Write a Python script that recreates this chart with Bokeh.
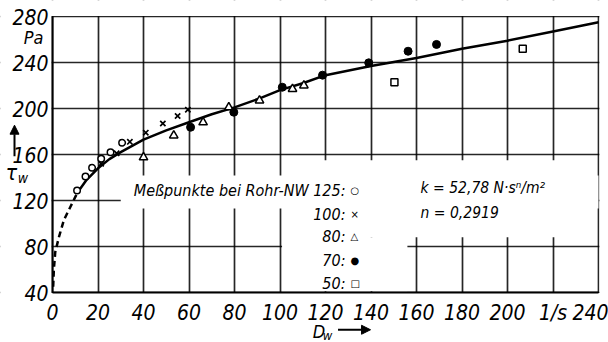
from bokeh.plotting import figure
from bokeh.models import Range1d, FixedTicker, BoxAnnotation, Label, Arrow, NormalHead
from bokeh.embed import file_html
from bokeh.resources import INLINE

# ---- data ----
curve_dash_x = [0.3, 0.6, 1.2, 2.8, 5.0, 8.0, 11.0]
curve_dash_y = [45, 60, 75, 88, 103, 115, 127]
curve_x = [11, 15, 20, 25, 30, 40, 50, 60, 70, 80, 90, 100, 110, 120, 140, 160, 180, 200, 220, 240]
curve_y = [127, 138, 148, 156, 162, 173, 181, 188, 195, 201, 208, 216, 222, 229, 237, 244, 252, 259, 267, 275]

nw125_x = [10.8, 14.5, 17.4, 21.4, 25.5, 30.6]
nw125_y = [128.7, 140.9, 148.4, 156.3, 162, 170.2]
nw100_x = [21.4, 28.2, 34, 41, 48.5, 55, 59.5]
nw100_y = [151.9, 161, 171, 179, 187, 193.5, 199]
nw80_x = [40, 53.3, 66.2, 77.5, 91, 105.5, 110.5]
nw80_y = [157.5, 176.5, 188, 201, 207, 217, 220]
nw70_x = [60.7, 79.7, 101, 118.7, 139, 156.3, 168.8]
nw70_y = [183.7, 196.8, 218.5, 229, 239.7, 249.8, 255.7]
nw50_x = [150.3, 206.7]
nw50_y = [222.9, 251.9]

x_ticks = [0, 20, 40, 60, 80, 100, 120, 140, 160, 180, 200, 220, 240]
x_tick_labels = ["0", "20", "40", "60", "80", "100", "120", "140", "160", "180", "200", "1/s", "240"]
y_ticks = [40, 80, 120, 160, 200, 240, 280]

X0, X1, Y0, Y1 = 0, 240, 40, 280

# ---- layout: the frame fills the canvas, the axes sit at fixed locations ----
W, H = 608, 342
PL, PR, PT, PB = 52, 598, 16, 292          # pixel box of the drawn grid
sx = (PR - PL) / (X1 - X0)
sy = (PB - PT) / (Y1 - Y0)
xr = Range1d(X0 - PL / sx, X1 + (W - PR) / sx)
yr = Range1d(Y0 - (H - PB) / sy, Y1 + PT / sy)

FONT = "Liberation Sans Narrow, DejaVu Sans Condensed, sans-serif"

p = figure(width=W, height=H, output_backend="svg", toolbar_location=None,
           x_range=xr, y_range=yr, min_border=0,
           background_fill_color="white", border_fill_color="white")
p.outline_line_color = None

p.xaxis.fixed_location = Y0
p.xaxis.bounds = (X0, X1)
p.yaxis.fixed_location = X0
p.yaxis.bounds = (Y0, Y1)
for ax in (p.xaxis, p.yaxis):
    ax.axis_line_width = 2
    ax.axis_line_color = "black"
    ax.major_tick_out = 0
    ax.major_tick_in = 0
    ax.minor_tick_out = 0
    ax.minor_tick_in = 0
    ax.major_label_text_font = FONT
    ax.major_label_text_font_style = "italic"
    ax.major_label_text_font_size = "21px"
    ax.major_label_text_color = "black"

p.xaxis.ticker = FixedTicker(ticks=x_ticks)
p.xaxis.major_label_overrides = {t: l for t, l in zip(x_ticks, x_tick_labels)}
p.xaxis.major_label_standoff = 8
p.yaxis.ticker = FixedTicker(ticks=y_ticks)
p.yaxis.major_label_standoff = 4

p.xgrid.ticker = FixedTicker(ticks=x_ticks)
p.ygrid.ticker = FixedTicker(ticks=y_ticks)
for g in (p.xgrid, p.ygrid):
    g.grid_line_color = "black"
    g.grid_line_width = 1.7
    g.grid_line_alpha = 0.85

e = 0.4
masks = [
    # outside the chart
    (xr.start, X0 - e, yr.start, yr.end),
    (X1 + e, xr.end, yr.start, yr.end),
    (xr.start, xr.end, yr.start, Y0 - e),
    (xr.start, xr.end, Y1 + e, yr.end),
    # legend areas, where the drawing has no grid
    (30, 240, 113, 141.7),
    (100.9, 239.2, 88, 155),
    (100.9, 156, 41, 88),
]
for (l, r, b, t) in masks:
    p.add_layout(BoxAnnotation(left=l, right=r, bottom=b, top=t, fill_color="white",
                               fill_alpha=1.0, line_alpha=0, level="glyph"))

# fitted curve
p.line(curve_dash_x, curve_dash_y, line_color="black", line_width=2.5, line_dash="6 4")
p.line(curve_x, curve_y, line_color="black", line_width=2.5)

# measured points
p.scatter(nw125_x, nw125_y, marker="circle", size=6.5, fill_color="white", line_color="black", line_width=1.5)
p.scatter(nw100_x, nw100_y, marker="x", size=7.5, line_color="black", line_width=1.7)
p.scatter(nw80_x, nw80_y, marker="triangle", size=8.5, fill_color="white", line_color="black", line_width=1.5)
p.scatter(nw70_x, nw70_y, marker="circle", size=8, fill_color="black", line_color="black")
p.scatter(nw50_x, nw50_y, marker="square", size=7, fill_color="white", line_color="black", line_width=1.5)

def lab(x, y, text, size="16px", align="left", baseline="middle", font=FONT, style="italic"):
    p.add_layout(Label(x=x, y=y, text=text, text_font=font, text_font_style=style,
                       text_font_size=size, text_align=align, text_baseline=baseline,
                       text_color="black"))

# legend texts
rows_y = [128.7, 107.8, 88.7, 67.8, 47.8]
rows_text = ["Meßpunkte bei Rohr-NW 125:", "100:", "80:", "70:", "50:"]
rows_sym = ["○", "×", "△", "●", "□"]
for yy, tt, ss in zip(rows_y, rows_text, rows_sym):
    lab(128.8, yy, tt, align="right")
    lab(131.0, yy, ss, size="10px", font="DejaVu Sans", style="normal")

lab(161.8, 131.3, "k = 52,78 N·sⁿ/m²", size="15.5px")
lab(161.8, 108.7, "n = 0,2919", size="15.5px")

# axis unit and quantity symbols
lab(-12.6, 261.5, "Pa", size="18px")
lab(-20.6, 144.0, "τ", size="21px")
lab(-15.3, 139.5, "w", size="14px")
p.add_layout(Arrow(x_start=-16.7, y_start=158.5, x_end=-16.7, y_end=185.5,
                   line_width=2, line_color="black",
                   end=NormalHead(size=9, fill_color="black", line_color="black")))
lab(114.4, 6.0, "D", size="18px")
lab(118.8, 2.3, "w", size="13px")
p.add_layout(Arrow(x_start=125.5, y_start=7.6, x_end=139.8, y_end=7.6,
                   line_width=2, line_color="black",
                   end=NormalHead(size=9, fill_color="black", line_color="black")))

open("out.html", "w").write(file_html(p, INLINE))
